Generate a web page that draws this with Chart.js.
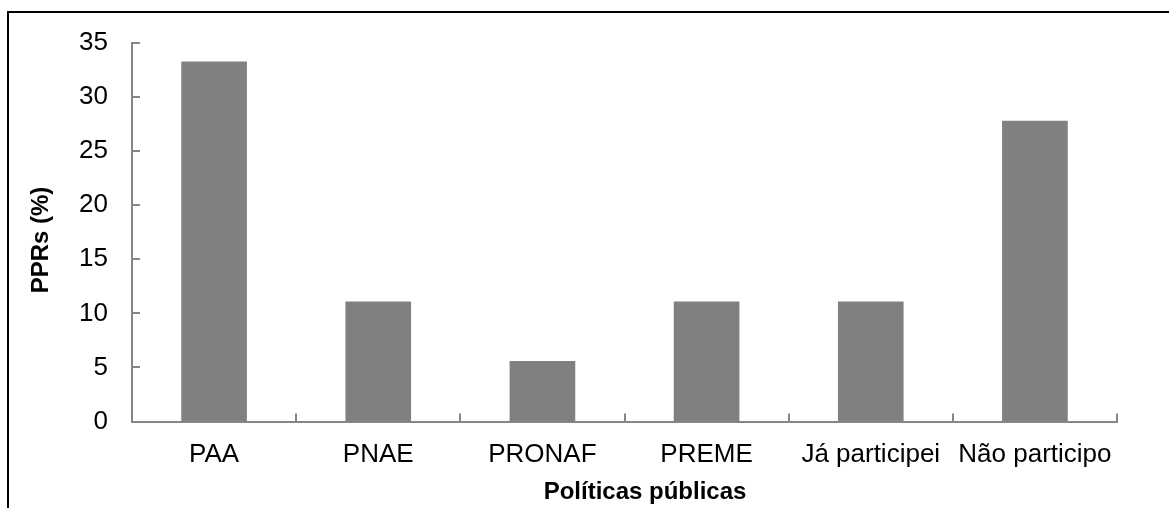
<!DOCTYPE html>
<html><head><meta charset="utf-8">
<script src="https://cdn.jsdelivr.net/npm/chart.js@4"></script>
<style>html,body{margin:0;padding:0;background:#fff;overflow:hidden}#wrap{width:1169px;height:508px;position:relative}</style>
</head><body><div id="wrap"><canvas id="c" width="1169" height="508"></canvas></div>
<script>
const categories = ["PAA", "PNAE", "PRONAF", "PREME", "Já participei", "Não participo"];
const values = [33.3, 11.1, 5.6, 11.1, 11.1, 27.8];
const yTicks = [0, 5, 10, 15, 20, 25, 30, 35];
const xTitle = "Políticas públicas";
const yTitle = "PPRs (%)";

const FONT = "'Liberation Sans', Arial, sans-serif";
const AXIS = "#868686";

const decor = {
  id: 'decor',
  afterDraw(chart) {
    const ctx = chart.ctx;
    const xs = chart.scales.x, ys = chart.scales.y;
    ctx.save();
    // frame
    ctx.strokeStyle = '#000'; ctx.lineWidth = 2;
    ctx.beginPath();
    ctx.moveTo(8, 508); ctx.lineTo(8, 12); ctx.lineTo(1169, 12);
    ctx.stroke();
    // tick marks
    ctx.strokeStyle = AXIS; ctx.lineWidth = 2;
    ctx.beginPath();
    yTicks.forEach(v => {
      const p = Math.round(ys.getPixelForValue(v));
      ctx.moveTo(xs.left, p); ctx.lineTo(xs.left + 8, p);
    });
    const n = categories.length;
    for (let i = 0; i <= n; i++) {
      const p = Math.round(xs.getPixelForValue(i - 0.5));
      ctx.moveTo(p, ys.bottom); ctx.lineTo(p, ys.bottom - 8);
    }
    ctx.stroke();
    // titles
    ctx.fillStyle = '#000';
    ctx.textAlign = 'center'; ctx.textBaseline = 'middle';
    ctx.font = "bold 24px " + FONT;
    ctx.fillText(xTitle, 645, 492);
    ctx.translate(41, 240);
    ctx.rotate(-Math.PI / 2);
    ctx.fillText(yTitle, 0, 0);
    ctx.restore();
  }
};

new Chart(document.getElementById('c'), {
  type: 'bar',
  data: {
    labels: categories,
    datasets: [{ data: values, backgroundColor: '#808080', borderWidth: 0,
      categoryPercentage: 1.0, barPercentage: 0.4 }]
  },
  options: {
    responsive: false, animation: false, devicePixelRatio: 1,
    layout: { padding: { left: 0, top: 43, right: 52, bottom: 0 } },
    plugins: { legend: { display: false }, tooltip: { enabled: false } },
    scales: {
      x: {
        grid: { display: false },
        border: { display: true, color: AXIS, width: 2 },
        ticks: { color: '#000', font: { family: FONT, size: 26 }, padding: 10, maxRotation: 0, autoSkip: false },
        afterFit(s) { s.height = 86.5; }
      },
      y: {
        min: 0, max: 35,
        grid: { display: false },
        border: { display: true, color: AXIS, width: 2 },
        ticks: { stepSize: 5, color: '#000', font: { family: FONT, size: 26 }, padding: 16 },
        afterFit(s) { s.width = 132; }
      }
    }
  },
  plugins: [decor]
});
</script>
</body></html>
